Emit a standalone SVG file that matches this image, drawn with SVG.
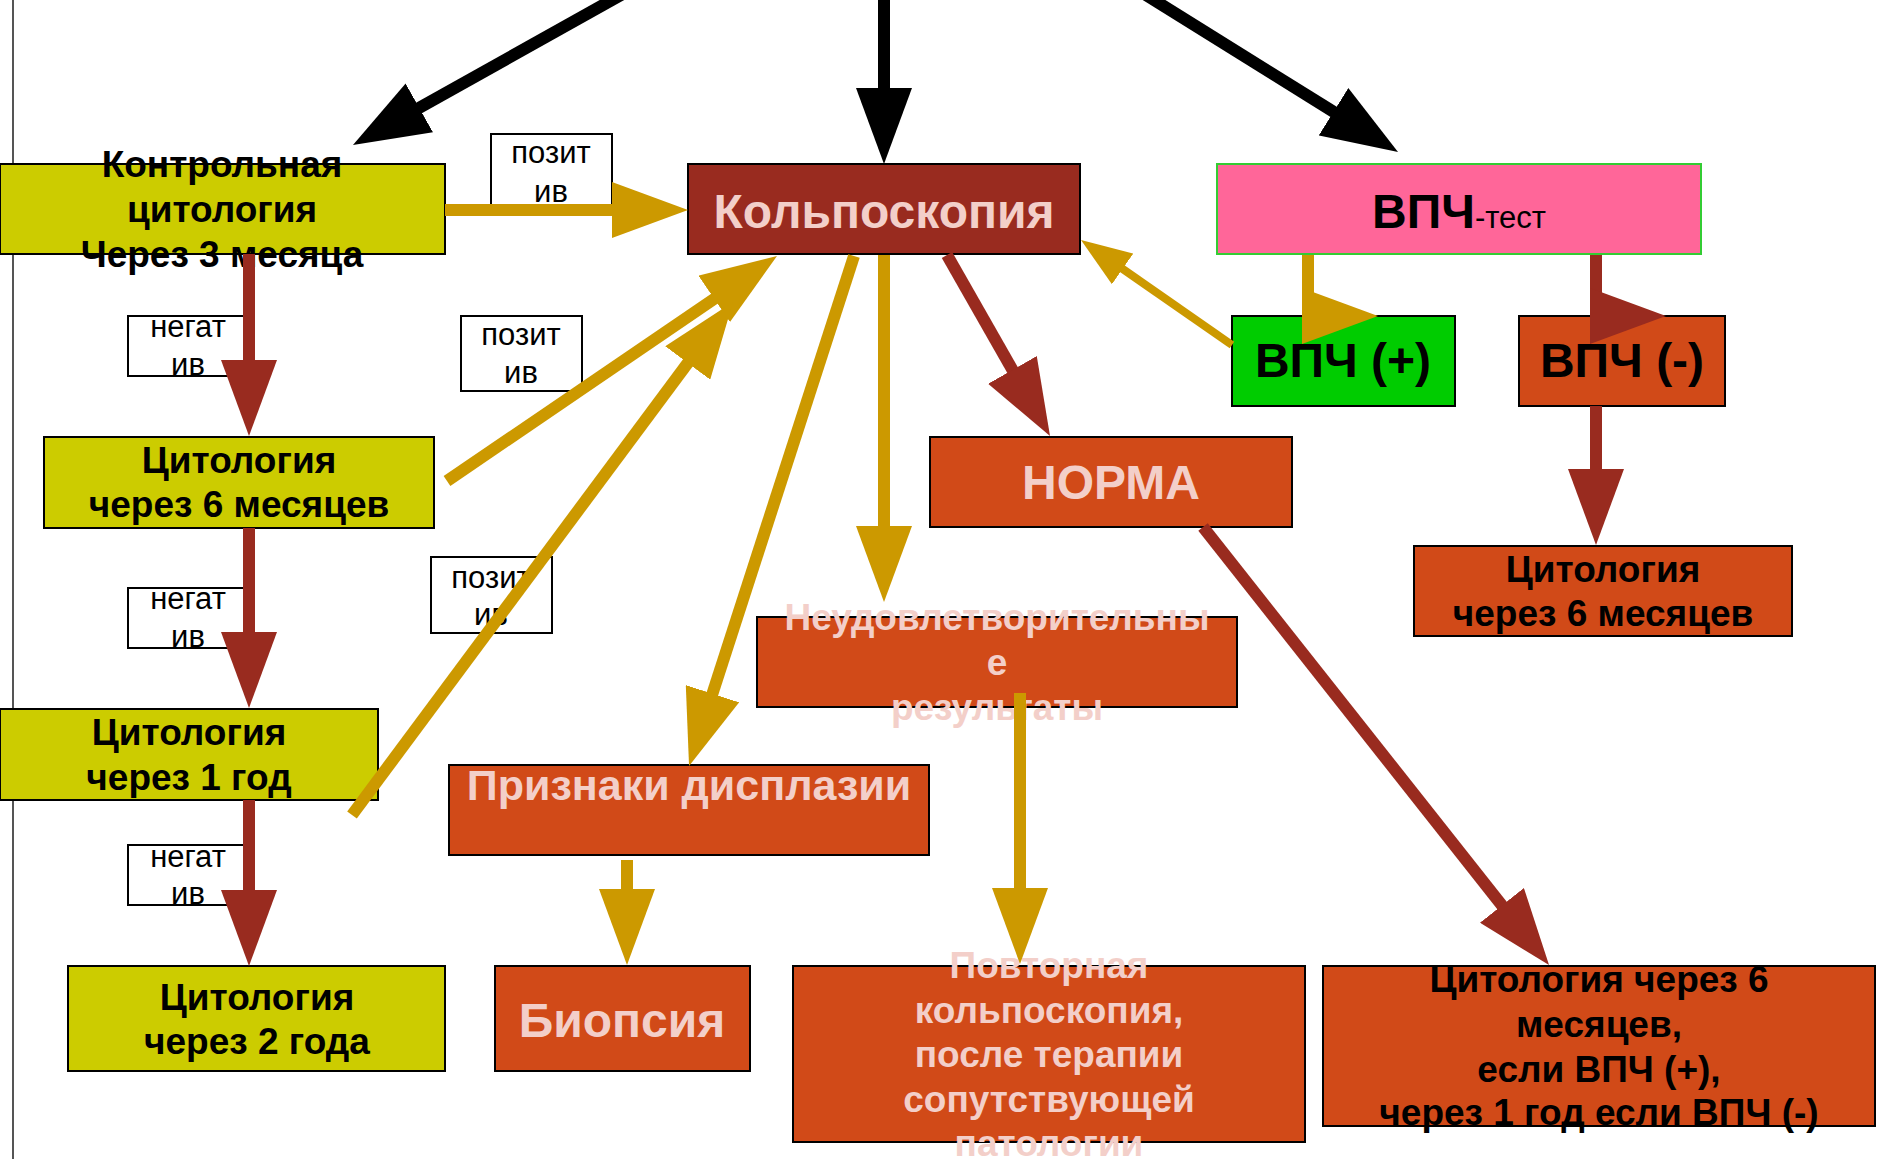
<svg xmlns="http://www.w3.org/2000/svg" width="1882" height="1159" viewBox="0 0 1882 1159">
<style>
.t{font-family:"Liberation Sans",Arial,sans-serif;text-anchor:middle}
.b{font-weight:bold}
.k{fill:#000}
.p{fill:#F3CFC9}
.s36{font-size:37px}
.s46{font-size:48px}
.s42{font-size:43px}
.s30{font-size:31px}
.by{fill:#CCCC00;stroke:#000;stroke-width:2}
.bo{fill:#D14A18;stroke:#000;stroke-width:2}
.br{fill:#992B1F;stroke:#000;stroke-width:2}
.bp{fill:#FF6699;stroke:#33CC33;stroke-width:2}
.bg{fill:#00CC00;stroke:#000;stroke-width:2}
.lb{fill:#fff;stroke:#000;stroke-width:2}
.ck{stroke:#000;stroke-width:12;fill:none;marker-end:url(#ak)}
.cy{stroke:#CC9900;stroke-width:12;fill:none;marker-end:url(#ay)}
.cr{stroke:#992B1F;stroke-width:12;fill:none;marker-end:url(#ar)}
</style>
<defs>
<marker id="ak" viewBox="0 0 76 56" refX="4" refY="28" markerWidth="6.3333" markerHeight="4.6667" orient="auto"><path d="M0,0L76,28L0,56Z" fill="#000"/></marker>
<marker id="ay" viewBox="0 0 76 56" refX="4" refY="28" markerWidth="6.3333" markerHeight="4.6667" orient="auto"><path d="M0,0L76,28L0,56Z" fill="#CC9900"/></marker>
<marker id="ar" viewBox="0 0 76 56" refX="4" refY="28" markerWidth="6.3333" markerHeight="4.6667" orient="auto"><path d="M0,0L76,28L0,56Z" fill="#992B1F"/></marker>
</defs>
<rect width="1882" height="1159" fill="#fff"/>
<line x1="13" y1="0" x2="13" y2="1159" stroke="#555" stroke-width="2"/>

<g id="n-control">
<rect class="by" x="0" y="164" width="445" height="90"/>
<text class="t b k s36"><tspan x="222" y="177">Контрольная</tspan><tspan x="222" y="222">цитология</tspan><tspan x="222" y="267">Через 3 месяца</tspan></text>
</g>
<g id="n-colpo">
<rect class="br" x="688" y="164" width="392" height="90"/>
<text class="t b p s46" x="884" y="228">Кольпоскопия</text>
</g>
<g id="n-hpv">
<rect class="bp" x="1217" y="164" width="484" height="90"/>
<text class="t k" x="1459" y="228"><tspan class="b s46">ВПЧ</tspan><tspan class="s30">-тест</tspan></text>
</g>
<g id="n-hpv-pos">
<rect class="bg" x="1232" y="316" width="223" height="90"/>
<text class="t b k s46" x="1343" y="377">ВПЧ (+)</text>
</g>
<g id="n-hpv-neg">
<rect class="bo" x="1519" y="316" width="206" height="90"/>
<text class="t b k s46" x="1622" y="377">ВПЧ (-)</text>
</g>
<g id="n-cyto6-left">
<rect class="by" x="44" y="437" width="390" height="91"/>
<text class="t b k s36"><tspan x="239" y="473">Цитология</tspan><tspan x="239" y="517">через 6 месяцев</tspan></text>
</g>
<g id="n-norma">
<rect class="bo" x="930" y="437" width="362" height="90"/>
<text class="t b p s46" x="1111" y="499">НОРМА</text>
</g>
<g id="n-cyto6-right">
<rect class="bo" x="1414" y="546" width="378" height="90"/>
<text class="t b k s36"><tspan x="1603" y="582">Цитология</tspan><tspan x="1603" y="626">через 6 месяцев</tspan></text>
</g>
<g id="n-unsat">
<rect class="bo" x="757" y="617" width="480" height="90"/>
<text class="t b p s36"><tspan x="997" y="630">Неудовлетворительны</tspan><tspan x="997" y="675">е</tspan><tspan x="997" y="720">результаты</tspan></text>
</g>
<g id="n-cyto1y">
<rect class="by" x="0" y="709" width="378" height="91"/>
<text class="t b k s36"><tspan x="189" y="745">Цитология</tspan><tspan x="189" y="790">через 1 год</tspan></text>
</g>
<g id="n-dysplasia">
<rect class="bo" x="449" y="765" width="480" height="90"/>
<text class="t b p s42" x="689" y="800">Признаки дисплазии</text>
</g>
<g id="n-cyto2y">
<rect class="by" x="68" y="966" width="377" height="105"/>
<text class="t b k s36"><tspan x="257" y="1010">Цитология</tspan><tspan x="257" y="1054">через 2 года</tspan></text>
</g>
<g id="n-biopsy">
<rect class="bo" x="495" y="966" width="255" height="105"/>
<text class="t b p s46" x="622" y="1037">Биопсия</text>
</g>
<g id="n-repeat">
<rect class="bo" x="793" y="966" width="512" height="176"/>
<text class="t b p s36"><tspan x="1049" y="978">Повторная</tspan><tspan x="1049" y="1023">кольпоскопия,</tspan><tspan x="1049" y="1067">после терапии</tspan><tspan x="1049" y="1112">сопутствующей</tspan><tspan x="1049" y="1156">патологии</tspan></text>
</g>
<g id="n-cyto-hpv">
<rect class="bo" x="1323" y="966" width="552" height="160"/>
<text class="t b k s36"><tspan x="1599" y="992">Цитология через 6</tspan><tspan x="1599" y="1037">месяцев,</tspan><tspan x="1599" y="1082">если ВПЧ (+),</tspan><tspan x="1599" y="1125">через 1 год если ВПЧ (-)</tspan></text>
</g>

<g id="labels">
<g id="l-pos1"><rect class="lb" x="491" y="134" width="121" height="75"/><text class="t k s30"><tspan x="551" y="163">позит</tspan><tspan x="551" y="202">ив</tspan></text></g>
<g id="l-pos2"><rect class="lb" x="461" y="316" width="121" height="75"/><text class="t k s30"><tspan x="521" y="345">позит</tspan><tspan x="521" y="383">ив</tspan></text></g>
<g id="l-pos3"><rect class="lb" x="431" y="557" width="121" height="76"/><text class="t k s30"><tspan x="491" y="588">позит</tspan><tspan x="491" y="625">ив</tspan></text></g>
<g id="l-neg1"><rect class="lb" x="128" y="316" width="117" height="60"/><text class="t k s30"><tspan x="188" y="337">негат</tspan><tspan x="188" y="375">ив</tspan></text></g>
<g id="l-neg2"><rect class="lb" x="128" y="588" width="117" height="60"/><text class="t k s30"><tspan x="188" y="609">негат</tspan><tspan x="188" y="647">ив</tspan></text></g>
<g id="l-neg3"><rect class="lb" x="128" y="845" width="117" height="60"/><text class="t k s30"><tspan x="188" y="867">негат</tspan><tspan x="188" y="904">ив</tspan></text></g>
</g>

<g id="connectors">
<path class="ck" d="M629.5,-9.8L415.8,109.8"/>
<path class="ck" d="M884,-10L884,92"/>
<path class="ck" d="M1137,-10.6L1336.9,113.9"/>
<path class="cy" d="M445,210L616,210"/>
<path class="cy" d="M447,481L717.5,296.6"/>
<path class="cy" d="M352,815L690.1,359.8"/>
<path class="cy" d="M854,256L711.2,697.5"/>
<path class="cy" d="M884,255L884,530"/>
<path class="cy" style="stroke-width:8" d="M1232,345L1120.4,267.4"/>
<path class="cy" d="M627,860L627,893"/>
<path class="cy" d="M1020,693L1020,892"/>
<path class="cy" d="M1308,255V316M1305,316L1306,316"/>
<path class="cr" d="M249,254L249,364"/>
<path class="cr" d="M249,528L249,636"/>
<path class="cr" d="M249,800L249,894"/>
<path class="cr" d="M947,255L1014.4,373.4"/>
<path class="cr" d="M1203,527L1504.4,908.5"/>
<path class="cr" d="M1596,255V316M1593,316L1594,316"/>
<path class="cr" d="M1596,406L1596,473"/>
</g>
</svg>
